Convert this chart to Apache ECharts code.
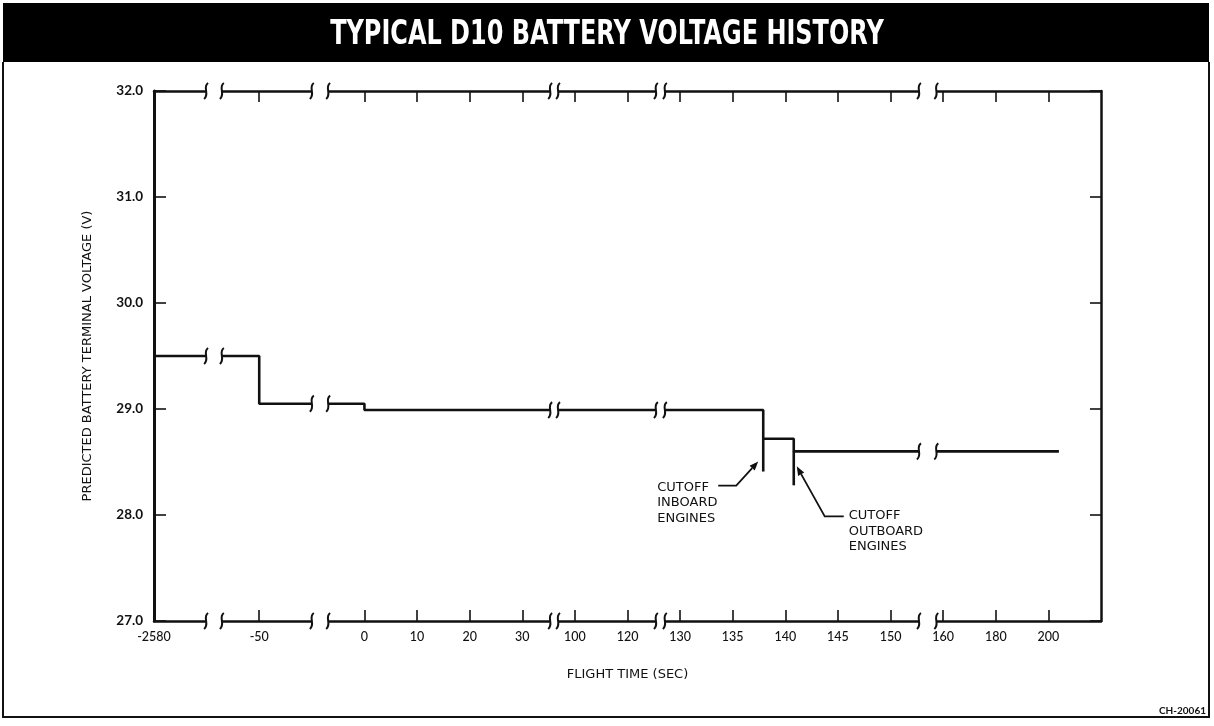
<!DOCTYPE html>
<html>
<head>
<meta charset="utf-8">
<script src="https://cdn.jsdelivr.net/npm/echarts@6/dist/echarts.min.js"></script>
<style>
  html, body { margin: 0; padding: 0; background: #fff; }
  #chart { width: 1214px; height: 726px; }
</style>
</head>
<body>
<div id="chart"></div>
<script>
// Broken time axis: tick labels (seconds), the axis segment each belongs to,
// and the slot each tick occupies along the axis.
const xTickValues  = [-2580, -50, 0, 10, 20, 30, 100, 120, 130, 135, 140, 145, 150, 160, 180, 200];
const xTickSegment = [0, 1, 2, 2, 2, 2, 3, 3, 4, 4, 4, 4, 4, 5, 5, 5];
const xTickSlot    = [0, 2, 4, 5, 6, 7, 8, 9, 10, 11, 12, 13, 14, 15, 16, 17];
const xSlotMax = 18;

// Axis breaks (start / end slot)
const axisBreaks = [[0.99, 1.29], [3.0, 3.31], [7.53, 7.68], [9.54, 9.71], [14.54, 14.87]];

// Voltage axis
const yMin = 27, yMax = 32;

// Predicted terminal voltage: times of each step change and the level after it
const stepTimes = [-2580, -50, 0, 137.9, 140.8];
const stepVolts = [29.5, 29.05, 28.99, 28.72, 28.6];
const endTime = 204;

// Engine cutoff transients
const cutoffTimes  = [137.9, 140.8];
const cutoffLevels = [28.72, 28.6];
const cutoffLows   = [28.41, 28.28];
const cutoffLabels = ['CUTOFF\nINBOARD\nENGINES', 'CUTOFF\nOUTBOARD\nENGINES'];

// Map a time in seconds to its slot on the broken axis
function toSlot(t) {
  let i = 0;
  for (let k = 0; k < xTickValues.length; k++) if (xTickValues[k] <= t) i = k;
  if (xTickValues[i] === t) return xTickSlot[i];
  let a = i, b = i + 1;
  if (b >= xTickValues.length || xTickSegment[b] !== xTickSegment[i]) { a = i - 1; b = i; }
  if (a < 0 || xTickSegment[a] !== xTickSegment[b]) return xTickSlot[i];
  return xTickSlot[a] + (t - xTickValues[a]) * (xTickSlot[b] - xTickSlot[a]) / (xTickValues[b] - xTickValues[a]);
}

const lineData = stepTimes.map((t, i) => [toSlot(t), stepVolts[i]]);
lineData.push([toSlot(endTime), stepVolts[stepVolts.length - 1]]);

function lineValueAt(slot) {
  let v = lineData[0][1];
  for (const p of lineData) if (p[0] <= slot) v = p[1];
  return v;
}

// break marks on bottom axis, top axis and on the voltage trace
const breakData = [];
axisBreaks.forEach(([s0, s1]) => {
  breakData.push([s0, s1, yMin]);
  breakData.push([s0, s1, yMax]);
  breakData.push([s0, s1, lineValueAt((s0 + s1) / 2)]);
});

const cutoffData = cutoffTimes.map((t, i) => [toSlot(t), cutoffLevels[i], cutoffLows[i], i]);

// pixel offsets of the cutoff callouts, relative to the bottom of each transient
const calloutLayout = [
  { tip: [-5, -10], elbow: [-27, 14], end: [-45, 14], text: [-106, 8] },
  { tip: [3, -19],  elbow: [31, 31],  end: [50, 31],  text: [55, 23] }
];

const slotLabel = {};
xTickSlot.forEach((s, i) => { slotLabel[s] = String(xTickValues[i]); });

const INK = '#111';
const FONT = 'Lato, "Noto Sans", sans-serif';
const WIDE = '"DejaVu Sans", sans-serif';

const chart = echarts.init(document.getElementById('chart'), null, { renderer: 'canvas' });

function squiggle(x, y) {
  return 'M' + (x + 2) + ' ' + (y - 8) +
         ' C' + (x - 4) + ' ' + (y - 4) + ' ' + (x + 4) + ' ' + (y + 3) + ' ' + (x - 2) + ' ' + (y + 8);
}

const xAxisBase = {
  type: 'value', min: 0, max: xSlotMax,
  axisLine: { show: true, onZero: false, lineStyle: { color: INK, width: 2.5 } },
  axisTick: { show: true, inside: true, length: 11, customValues: xTickSlot.slice(1), lineStyle: { color: INK, width: 1.6 } },
  splitLine: { show: false }
};

const option = {
  animation: false,
  backgroundColor: '#fff',
  grid: { left: 154, right: 113, top: 91, bottom: 105 },
  xAxis: [
    Object.assign({}, xAxisBase, {
      position: 'bottom',
      name: 'FLIGHT TIME (SEC)', nameLocation: 'middle', nameGap: 47,
      nameTextStyle: { fontFamily: WIDE, fontSize: 13, color: INK },
      axisLabel: {
        show: true, customValues: xTickSlot, margin: 9,
        fontFamily: FONT, fontSize: 12.5, fontWeight: 500, color: INK,
        formatter: (v) => slotLabel[v] || ''
      }
    }),
    Object.assign({}, xAxisBase, { position: 'top', axisLabel: { show: false } })
  ],
  yAxis: [
    {
      type: 'value', min: yMin, max: yMax, interval: 1, position: 'left',
      name: 'PREDICTED BATTERY TERMINAL VOLTAGE (V)', nameLocation: 'middle', nameRotate: 90, nameGap: 60,
      nameTextStyle: { fontFamily: WIDE, fontSize: 13, color: INK },
      axisLine: { show: true, onZero: false, lineStyle: { color: INK, width: 3 } },
      axisTick: { show: true, inside: true, length: 12, lineStyle: { color: INK, width: 1.6 } },
      axisLabel: { margin: 11, fontFamily: FONT, fontSize: 13.5, fontWeight: 'bold', color: INK, formatter: (v) => v.toFixed(1) },
      splitLine: { show: false }
    },
    {
      type: 'value', min: yMin, max: yMax, interval: 1, position: 'right',
      axisLine: { show: true, onZero: false, lineStyle: { color: INK, width: 2.5 } },
      axisTick: { show: true, inside: true, length: 11, lineStyle: { color: INK, width: 1.6 } },
      axisLabel: { show: false },
      splitLine: { show: false }
    }
  ],
  series: [
    {
      type: 'line', name: 'voltage', step: 'end', data: lineData,
      showSymbol: false, symbol: 'none', z: 3,
      lineStyle: { color: INK, width: 2.6 }
    },
    {
      type: 'custom', name: 'cutoffs', z: 4, clip: false,
      data: cutoffData,
      renderItem: (params, api) => {
        const slot = api.value(0), hi = api.value(1), lo = api.value(2), idx = api.value(3);
        const top = api.coord([slot, hi]);
        const bot = api.coord([slot, lo]);
        const L = calloutLayout[idx];
        const bx = bot[0], by = bot[1];
        const tip = [bx + L.tip[0], by + L.tip[1]];
        const elbow = [bx + L.elbow[0], by + L.elbow[1]];
        const end = [bx + L.end[0], by + L.end[1]];
        const dx = tip[0] - elbow[0], dy = tip[1] - elbow[1];
        const len = Math.hypot(dx, dy);
        const ux = dx / len, uy = dy / len;
        const base = [tip[0] - ux * 9, tip[1] - uy * 9];
        const px = -uy * 3.5, py = ux * 3.5;
        return {
          type: 'group',
          children: [
            { type: 'line', shape: { x1: top[0], y1: top[1], x2: bot[0], y2: bot[1] }, style: { stroke: INK, lineWidth: 2.6 } },
            { type: 'polyline', shape: { points: [end, elbow, base] }, style: { stroke: INK, lineWidth: 1.8, fill: null } },
            { type: 'polygon', shape: { points: [tip, [base[0] + px, base[1] + py], [base[0] - px, base[1] - py]] }, style: { fill: INK } },
            {
              type: 'text',
              style: {
                text: cutoffLabels[idx], x: bx + L.text[0], y: by + L.text[1],
                textAlign: 'left', textVerticalAlign: 'top',
                font: '13px ' + WIDE, lineHeight: 15.5, fill: INK
              }
            }
          ]
        };
      }
    },
    {
      type: 'custom', name: 'breaks', z: 10, clip: false,
      data: breakData,
      renderItem: (params, api) => {
        const s0 = api.value(0), s1 = api.value(1), lv = api.value(2);
        const p0 = api.coord([s0, lv]);
        const p1 = api.coord([s1, lv]);
        const y = p0[1];
        return {
          type: 'group',
          children: [
            { type: 'rect', shape: { x: p0[0], y: y - 4, width: p1[0] - p0[0], height: 8 }, style: { fill: '#fff' } },
            { type: 'path', shape: { pathData: squiggle(p0[0], y) }, style: { stroke: INK, lineWidth: 2, fill: null } },
            { type: 'path', shape: { pathData: squiggle(p1[0], y) }, style: { stroke: INK, lineWidth: 2, fill: null } }
          ]
        };
      }
    }
  ],
  graphic: [
    { type: 'rect', left: 3, top: 3, shape: { width: 1206, height: 59 }, style: { fill: '#000' }, z: 1 },
    {
      type: 'text', x: 607, y: 35, scaleX: 0.705, z: 2,
      style: {
        text: 'TYPICAL D10 BATTERY VOLTAGE HISTORY',
        x: 0, y: 0, textAlign: 'center', textVerticalAlign: 'middle',
        font: 'bold 34px "DejaVu Sans", sans-serif', fill: '#fff'
      }
    },
    {
      type: 'polyline', z: 1,
      shape: { points: [[3, 62], [3, 717], [1209, 717], [1209, 62]] },
      style: { stroke: INK, lineWidth: 2, fill: null }
    },
    {
      type: 'text', x: 1206, y: 711, z: 2,
      style: { text: 'CH-20061', x: 0, y: 0, textAlign: 'right', textVerticalAlign: 'middle', font: 'bold 10px ' + FONT, fill: INK }
    }
  ]
};

chart.setOption(option);
</script>
</body>
</html>
